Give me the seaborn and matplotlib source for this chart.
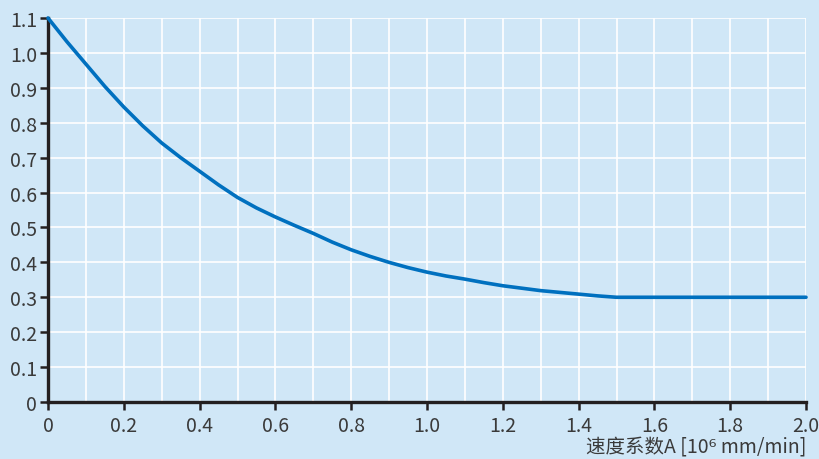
import matplotlib
matplotlib.use("Agg")
import matplotlib.pyplot as plt
import pandas as pd
import seaborn as sns
from matplotlib.ticker import FuncFormatter, MultipleLocator

# values
speed_factor = [0.0, 0.05, 0.1, 0.15, 0.2, 0.25, 0.3, 0.35, 0.4, 0.45, 0.5,
                0.55, 0.6, 0.65, 0.7, 0.75, 0.8, 0.85, 0.9, 0.95, 1.0,
                1.05, 1.1, 1.15, 1.2, 1.25, 1.3, 1.35, 1.4, 1.45, 1.5,
                1.6, 1.8, 2.0]
ratio = [1.100, 1.032, 0.968, 0.904, 0.845, 0.791, 0.742, 0.700, 0.661, 0.622, 0.586,
         0.556, 0.530, 0.506, 0.483, 0.458, 0.436, 0.417, 0.400, 0.385, 0.372,
         0.361, 0.352, 0.342, 0.333, 0.326, 0.319, 0.314, 0.309, 0.304, 0.300,
         0.300, 0.300, 0.300]
x_label = "速度系数A [10⁶ mm/min]"

bg = "#d0e7f7"
line_color = "#0070bf"
ink = "#231f20"
text_color = "#3a3a3a"

sns.set_theme(style="whitegrid")
plt.rcParams["font.family"] = ["Noto Sans CJK SC", "DejaVu Sans"]
plt.rcParams["font.weight"] = "light"

frame = pd.DataFrame({"A": speed_factor, "ratio": ratio})

fig = plt.figure(figsize=(8.19, 4.60), dpi=100, facecolor=bg)
ax = fig.add_axes([48 / 819, 1 - 403 / 460, 758 / 819, 384 / 460])
ax.set_facecolor(bg)

sns.lineplot(data=frame, x="A", y="ratio", ax=ax, color=line_color,
             linewidth=2.6, clip_on=False, zorder=5)

ax.set_xlim(0, 2.0)
ax.set_ylim(0, 1.1)
ax.xaxis.set_major_locator(MultipleLocator(0.2))
ax.xaxis.set_minor_locator(MultipleLocator(0.1))
ax.yaxis.set_major_locator(MultipleLocator(0.1))
fmt = FuncFormatter(lambda v, _: "0" if abs(v) < 1e-9 else f"{v:.1f}")
ax.xaxis.set_major_formatter(fmt)
ax.yaxis.set_major_formatter(fmt)

ax.grid(True, which="both", color="white", linewidth=1.2)
ax.set_axisbelow(True)

for side in ["top", "right"]:
    ax.spines[side].set_visible(False)
for side in ["left", "bottom"]:
    ax.spines[side].set_color(ink)
    ax.spines[side].set_linewidth(2.4)

ax.tick_params(axis="both", which="major", direction="out", length=6, width=1.8,
               color=ink, labelcolor=text_color, labelsize=14, pad=2)
ax.tick_params(axis="x", which="minor", length=0)
ax.tick_params(axis="x", which="major", pad=3)
ax.tick_params(left=True, bottom=True)

ax.set_xlabel(x_label, loc="right", fontsize=14, color=text_color, labelpad=0)
ax.set_ylabel("")

fig.savefig("out.png", dpi=100, facecolor=bg)
